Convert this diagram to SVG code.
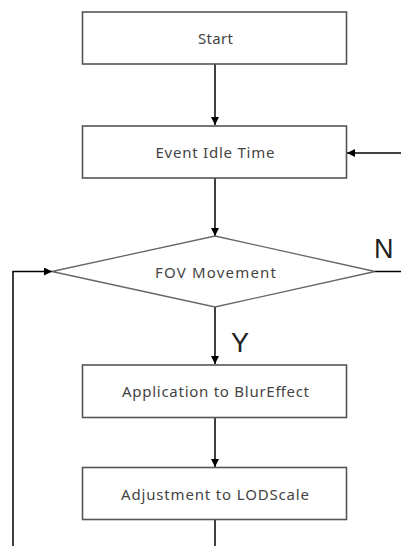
<svg xmlns="http://www.w3.org/2000/svg" width="401" height="546" viewBox="0 0 401 546">
<defs>
<marker id="ah" viewBox="0 0 10 10" refX="10" refY="5" markerWidth="8" markerHeight="8" markerUnits="userSpaceOnUse" orient="auto">
<path d="M0,0 L10,5 L0,10 z" fill="#000"/>
</marker>
<style>
.box{fill:#fff;stroke:#555;stroke-width:1.6}
.dia{fill:#fff;stroke:#666;stroke-width:1.3}
.lbl{font-family:"Noto Sans","DejaVu Sans",sans-serif;font-size:15px;fill:#444;text-anchor:middle;dominant-baseline:central}
.yn{font-family:"Liberation Sans","Noto Sans",sans-serif;font-size:27px;fill:#222}
.ln{fill:none;stroke:#000;stroke-width:1.5}
</style>
</defs>
<rect width="401" height="546" fill="#fff"/>
<g id="connectors">
<line class="ln" x1="215" y1="64" x2="215" y2="125" marker-end="url(#ah)"/>
<line class="ln" x1="401" y1="153" x2="347" y2="153" marker-end="url(#ah)"/>
<line class="ln" x1="215" y1="178" x2="215" y2="236" marker-end="url(#ah)"/>
<line class="ln" x1="375" y1="271.5" x2="401" y2="271.5"/>
<polyline class="ln" points="13,546 13,271.5 52,271.5" marker-end="url(#ah)"/>
<line class="ln" x1="215" y1="307" x2="215" y2="364" marker-end="url(#ah)"/>
<line class="ln" x1="215" y1="418" x2="215" y2="467" marker-end="url(#ah)"/>
<line class="ln" x1="215" y1="520" x2="215" y2="546"/>
<text class="yn" x="374" y="258">N</text>
<text class="yn" x="231" y="352">Y</text>
</g>
<g id="start">
<rect class="box" x="82.5" y="12" width="264" height="52"/>
<text class="lbl" x="215.5" y="38" textLength="35" lengthAdjust="spacing">Start</text>
</g>
<g id="idle">
<rect class="box" x="82.5" y="126" width="264" height="52"/>
<text class="lbl" x="215" y="152" textLength="119" lengthAdjust="spacing">Event Idle Time</text>
</g>
<g id="fov">
<polygon class="dia" points="215,236 375,271.5 215,307 52,271.5"/>
<text class="lbl" x="215.5" y="272" textLength="121" lengthAdjust="spacing">FOV Movement</text>
</g>
<g id="blur">
<rect class="box" x="82.5" y="365" width="264" height="52.5"/>
<text class="lbl" x="215.5" y="391" textLength="187" lengthAdjust="spacing">Application to BlurEffect</text>
</g>
<g id="lod">
<rect class="box" x="82.5" y="467.5" width="264" height="52"/>
<text class="lbl" x="215" y="494" textLength="188" lengthAdjust="spacing">Adjustment to LODScale</text>
</g>
</svg>
